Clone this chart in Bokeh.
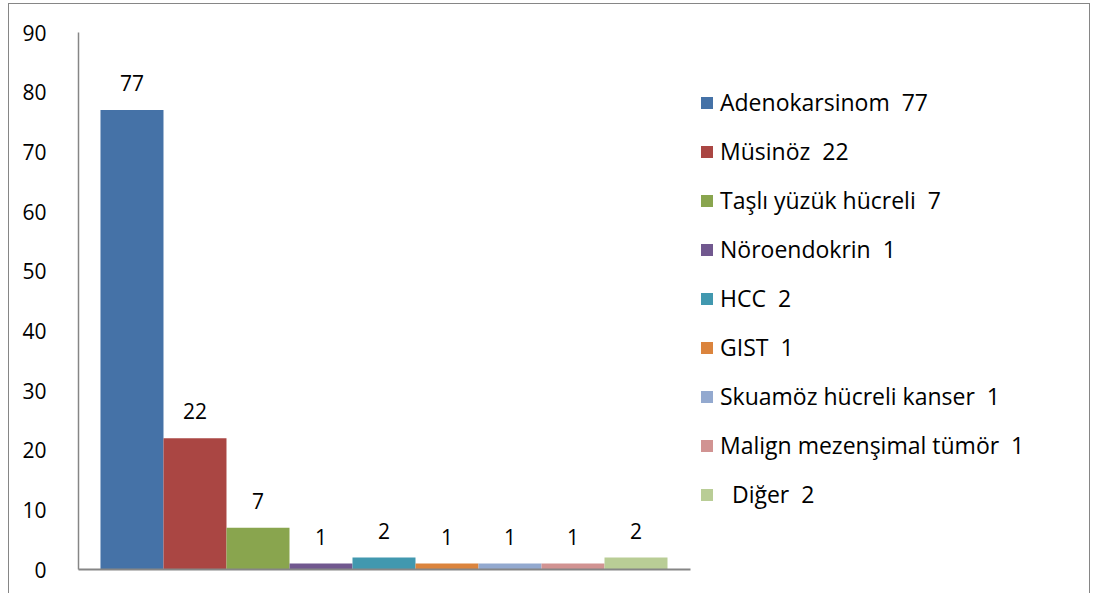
from bokeh.plotting import figure
from bokeh.models import ColumnDataSource, Range1d, FixedTicker, Legend, LegendItem
from bokeh.core.properties import value
from bokeh.embed import file_html
from bokeh.resources import INLINE

categories = ["Adenokarsinom  77", "Müsinöz  22", "Taşlı yüzük hücreli  7", "Nöroendokrin  1",
              "HCC  2", "GIST  1", "Skuamöz hücreli kanser  1", "Malign mezenşimal tümör  1", "  Diğer  2"]
values = [77, 22, 7, 1, 2, 1, 1, 1, 2]
colors = ["#4572A7", "#AA4643", "#89A54E", "#71588F", "#4198AF", "#DB843D", "#93A9CF", "#D19392", "#B9CD96"]
y_ticks = [0, 10, 20, 30, 40, 50, 60, 70, 80, 90]

FONT = "Open Sans"
xs = list(range(len(values)))
src = ColumnDataSource(dict(x=xs, top=values, label=[str(v) for v in values]))

p = figure(width=1082, height=592, output_backend="svg", toolbar_location=None,
           x_range=Range1d(-0.849, 15.214), y_range=Range1d(0, 90),
           min_border_left=69, min_border_right=1, min_border_top=28, min_border_bottom=27)
p.styles = {"border": "1px solid #868686", "margin-left": "8px", "margin-top": "3px"}
p.outline_line_color = None
p.grid.visible = False

renderers = []
for i in xs:
    r = p.vbar(x=[xs[i]], top=[values[i]], width=1.0, bottom=0, fill_color=colors[i], line_color=None)
    renderers.append(r)

p.text(x="x", y="top", text="label", source=src, text_align="center", text_baseline="middle",
       y_offset=-27, text_font=value(FONT), text_font_size="21px", text_color="#000000")

p.yaxis.ticker = FixedTicker(ticks=y_ticks)
p.yaxis.major_tick_line_color = None
p.yaxis.minor_tick_line_color = None
p.yaxis.axis_line_color = "#868686"
p.yaxis.axis_line_width = 1.5
p.yaxis.major_label_standoff = 26
p.yaxis.major_label_text_font = FONT
p.yaxis.major_label_text_font_size = "21px"
p.yaxis.major_label_text_color = "#000000"

p.xaxis.ticker = FixedTicker(ticks=[])
p.xaxis.bounds = (-0.849, 8.865)
p.xaxis.major_tick_line_color = None
p.xaxis.minor_tick_line_color = None
p.xaxis.major_label_text_font_size = "0px"
p.xaxis.axis_line_color = "#868686"
p.xaxis.axis_line_width = 2

legend = Legend(items=[LegendItem(label=categories[i], renderers=[renderers[i]]) for i in xs],
                location=(621, 59), margin=0, padding=0, spacing=17, label_height=32,
                glyph_width=15, glyph_height=15, label_standoff=6,
                label_text_font=FONT, label_text_font_size="23px", label_text_color="#000000",
                border_line_color=None, background_fill_alpha=0)
p.add_layout(legend, "center")

open("out.html", "w").write(file_html(p, INLINE))
